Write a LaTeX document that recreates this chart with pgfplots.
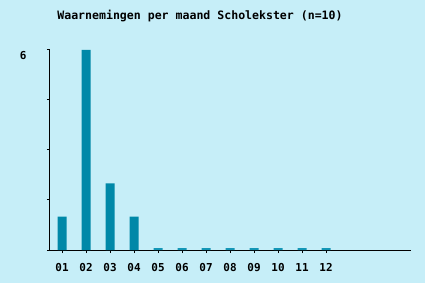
\documentclass[border=0pt]{standalone}
\usepackage{pgfplots}
\pgfplotsset{compat=1.18}
\usepackage{fontspec}
\setmonofont{DejaVu Sans Mono}
\definecolor{bg}{HTML}{C6EEF8}
\definecolor{bar}{HTML}{0088A8}
\definecolor{barz}{HTML}{1496B6}
\begin{document}
\begin{tikzpicture}
\fill[bg] (0,0) rectangle (425bp,283bp);
\node[font=\ttfamily\bfseries\fontsize{11.6}{13}\selectfont] at (200bp,267bp) {Waarnemingen per maand Scholekster (n=10)};
\begin{axis}[
  at={(50bp,33bp)}, anchor=south west,
  scale only axis, width=361bp, height=200bp,
  xmin=0.5, xmax=15.54, ymin=0, ymax=6,
  axis lines*=left,
  axis line style={line width=1bp, black},
  tick style={line width=1bp, black},
  tick align=outside,
  major tick length=3bp,
  xtick={1,2,3,4,5,6,7,8,9,10,11,12},
  xticklabels={01,02,03,04,05,06,07,08,09,10,11,12},
  ytick={0,1.5,3,4.5,6},
  yticklabels={,,,,6},
  xticklabel style={font=\ttfamily\bfseries\fontsize{11}{12}\selectfont, yshift=-7bp},
  yticklabel style={font=\ttfamily\bfseries\fontsize{11}{12}\selectfont, xshift=-17bp, yshift=-6bp},
  clip=false,
]
\addplot[ybar, bar width=9bp, fill=bar, draw=none] coordinates {(1,1) (2,6) (3,2) (4,1)};
\addplot[ybar, bar width=9bp, fill=barz, draw=none] coordinates {(5,0.06) (6,0.06) (7,0.06) (8,0.06) (9,0.06) (10,0.06) (11,0.06) (12,0.06)};
\end{axis}
\end{tikzpicture}
\end{document}
